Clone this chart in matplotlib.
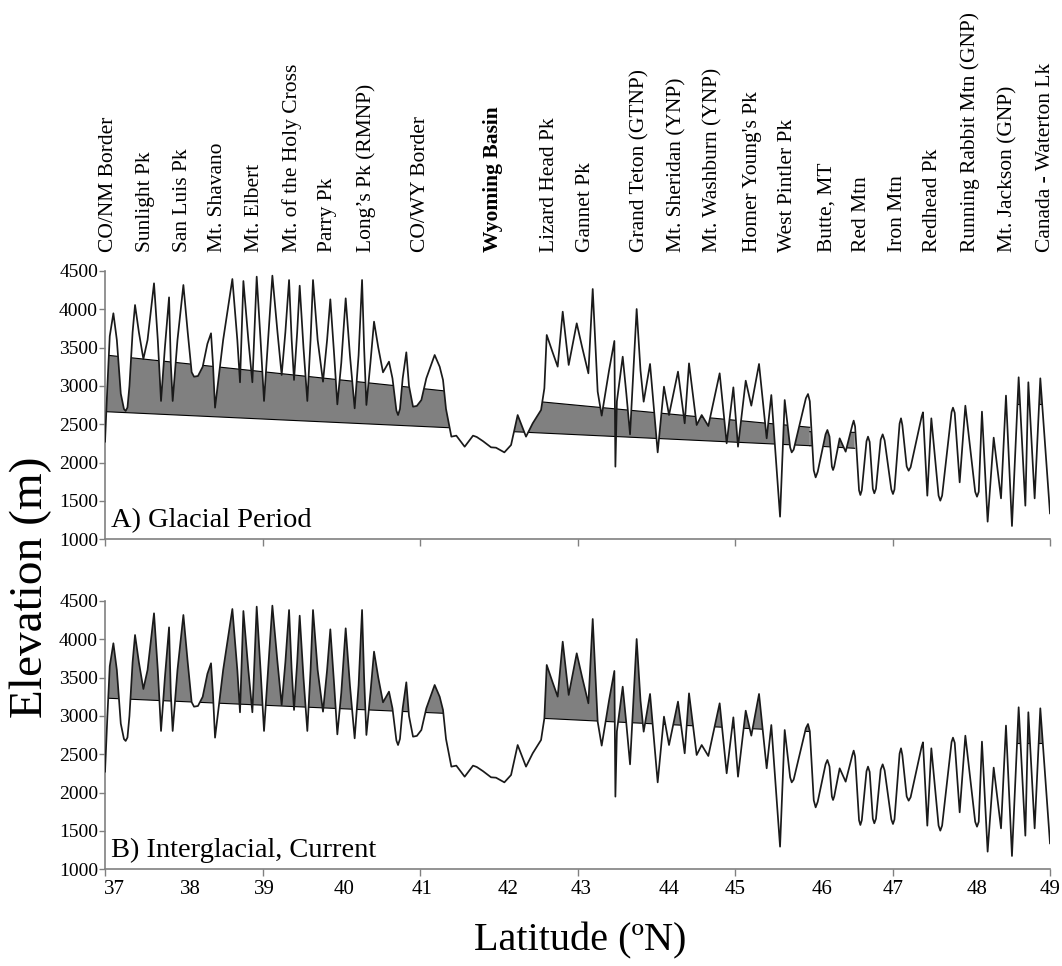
#!/usr/bin/env python
import matplotlib
matplotlib.use('Agg')
import matplotlib.pyplot as plt
import matplotlib.transforms as mtransforms
from matplotlib.patches import Polygon
import numpy as np

plt.rcParams['font.family'] = ['Liberation Serif', 'DejaVu Serif']

# Elevation profile along the crest (latitude, m)
LAT = [37.000, 37.030, 37.060, 37.106, 37.150, 37.200, 37.240, 37.262, 37.285, 37.310,
       37.350, 37.381, 37.430, 37.487, 37.540, 37.622, 37.670, 37.711, 37.760, 37.813,
       37.835, 37.859, 37.920, 37.995, 38.050, 38.100, 38.130, 38.180, 38.240, 38.300,
       38.346, 38.370, 38.397, 38.500, 38.617, 38.680, 38.714, 38.757, 38.820, 38.871,
       38.926, 38.975, 39.019, 39.070, 39.125, 39.190, 39.243, 39.290, 39.337, 39.370,
       39.400, 39.440, 39.472, 39.520, 39.569, 39.610, 39.641, 39.700, 39.768, 39.820,
       39.861, 39.910, 39.950, 40.000, 40.056, 40.110, 40.170, 40.220, 40.264, 40.290,
       40.319, 40.370, 40.416, 40.470, 40.530, 40.606, 40.650, 40.700, 40.721, 40.745,
       40.780, 40.826, 40.860, 40.911, 40.960, 41.017, 41.080, 41.186, 41.250, 41.292,
       41.330, 41.398, 41.461, 41.567, 41.673, 41.720, 41.800, 41.902, 41.965, 42.071,
       42.156, 42.240, 42.346, 42.431, 42.537, 42.579, 42.609, 42.680, 42.748, 42.812,
       42.888, 42.990, 43.060, 43.138, 43.193, 43.256, 43.307, 43.400, 43.468, 43.481,
       43.500, 43.574, 43.620, 43.667, 43.751, 43.800, 43.840, 43.921, 43.970, 44.018,
       44.098, 44.162, 44.276, 44.361, 44.416, 44.513, 44.577, 44.661, 44.805, 44.894,
       44.979, 45.038, 45.136, 45.207, 45.305, 45.402, 45.461, 45.572, 45.631, 45.700,
       45.720, 45.745, 45.900, 45.927, 45.950, 46.000, 46.024, 46.050, 46.150, 46.173,
       46.200, 46.230, 46.245, 46.260, 46.329, 46.405, 46.490, 46.507, 46.525, 46.575,
       46.592, 46.610, 46.670, 46.689, 46.710, 46.750, 46.769, 46.790, 46.850, 46.875,
       46.900, 46.985, 47.006, 47.025, 47.090, 47.108, 47.125, 47.180, 47.205, 47.230,
       47.370, 47.387, 47.442, 47.493, 47.585, 47.607, 47.630, 47.750, 47.768, 47.790,
       47.853, 47.925, 48.050, 48.073, 48.095, 48.136, 48.208, 48.285, 48.378, 48.441,
       48.517, 48.602, 48.687, 48.725, 48.805, 48.877, 49.000]
ELEV = [2274, 3000, 3650, 3948, 3600, 2900, 2700, 2674, 2720, 3000,
        3700, 4056, 3700, 3352, 3600, 4339, 3600, 2804, 3500, 4156,
        3300, 2804, 3600, 4317, 3700, 3180, 3121, 3130, 3250, 3550,
        3687, 3300, 2717, 3600, 4395, 3600, 3048, 4369, 3600, 3048,
        4426, 3600, 2804, 3600, 4439, 3700, 3143, 3700, 4382, 3600,
        3078, 3700, 4308, 3500, 2804, 3600, 4382, 3600, 3056, 3600,
        4130, 3400, 2760, 3300, 4143, 3400, 2708, 3400, 4382, 3500,
        2752, 3300, 3839, 3500, 3178, 3317, 3100, 2680, 2621, 2700,
        3100, 3439, 3000, 2730, 2740, 2817, 3100, 3404, 3250, 3078,
        2700, 2339, 2352, 2208, 2352, 2335, 2280, 2200, 2195, 2134,
        2230, 2621, 2339, 2513, 2687, 2969, 3665, 3450, 3252, 3969,
        3274, 3817, 3500, 3165, 4265, 2926, 2613, 3200, 3587, 1948,
        2800, 3382, 2900, 2369, 4004, 3200, 2795, 3287, 2700, 2134,
        2991, 2621, 3187, 2513, 3295, 2491, 2621, 2478, 3165, 2252,
        2982, 2208, 3069, 2743, 3287, 2317, 2882, 1295, 2817, 2200,
        2134, 2170, 2840, 2895, 2800, 1900, 1808, 1880, 2370, 2426,
        2340, 1950, 1904, 1950, 2317, 2143, 2490, 2548, 2470, 1640,
        1578, 1640, 2280, 2339, 2270, 1660, 1600, 1660, 2300, 2369,
        2290, 1650, 1591, 1650, 2510, 2578, 2490, 1950, 1895, 1940,
        2600, 2656, 1569, 2578, 1570, 1504, 1570, 2660, 2717, 2650,
        1743, 2743, 1620, 1556, 1620, 2665, 1230, 2326, 1534, 2874,
        1174, 3113, 1439, 3048, 1534, 3100, 1339]

# Glacial period: ice band between a lower and an upper line, per stretch
GLACIAL_X = [[37.00, 41.40], [42.18, 45.95], [45.95, 46.52], [48.40, 48.95]]
GLACIAL_LOW = [[2665, 2454], [2404, 2221], [2221, 2187], [2765, 2765]]
GLACIAL_HIGH = [[3404, 2926], [2828, 2461], [2404, 2395], None]

# Interglacial (current): everything above the line is shaded
CURRENT_X = [[37.00, 41.40], [42.50, 45.98], [48.40, 48.95]]
CURRENT_LOW = [[3233, 3030], [2972, 2795], [2650, 2650]]

PEAK_NAMES = ['CO/NM Border', 'Sunlight Pk', 'San Luis Pk', 'Mt. Shavano', 'Mt. Elbert',
              'Mt. of the Holy Cross', 'Parry Pk', 'Long\u2019s Pk (RMNP)', 'CO/WY Border',
              'Wyoming Basin', 'Lizard Head Pk', 'Gannet Pk', 'Grand Teton (GTNP)',
              'Mt. Sheridan (YNP)', 'Mt. Washburn (YNP)', "Homer Young's Pk",
              'West Pintler Pk', 'Butte, MT', 'Red Mtn', 'Iron Mtn', 'Redhead Pk',
              'Running Rabbit Mtn (GNP)', 'Mt. Jackson (GNP)', 'Canada - Waterton Lk']
PEAK_LAT = [37.04, 37.51, 37.98, 38.43, 38.90, 39.37, 39.83, 40.32, 41.00, 41.93, 42.65,
            43.10, 43.79, 44.26, 44.72, 45.22, 45.67, 46.17, 46.61, 47.06, 47.51, 47.98,
            48.47, 48.94]

XTICK_MARKS = [37, 39, 41, 43, 45, 47, 49]
XLABEL_POS = [37.12, 38.09, 39.02, 40.04, 41.02, 42.12, 43.04, 44.16, 45.0, 46.11,
              47.01, 48.07, 49.0]
XLABELS = ['37', '38', '39', '40', '41', '42', '43', '44', '45', '46', '47', '48', '49']


def draw_panel(ax, xs, lows, highs, title):
    ax.set_xlim(37, 49)
    ax.set_ylim(1000, 4500)
    under = Polygon(np.column_stack([np.r_[LAT[0], LAT, LAT[-1]],
                                     np.r_[1000, ELEV, 1000]]),
                    closed=True, transform=ax.transData)
    top = ax.get_ylim()[1]
    for x, lo, hi in zip(xs, lows, highs):
        edges = [lo] if hi is None else [lo, hi]
        if hi is None:
            hi = [top, top]
        band = ax.fill_between(x, lo, hi, facecolor='#808080', edgecolor='none', zorder=1)
        band.set_clip_path(under)
        for e in edges:
            ln, = ax.plot(x, e, color='black', lw=0.8, zorder=2)
            ln.set_clip_path(under)
    ax.plot(LAT, ELEV, color='#1a1a1a', lw=1.25, zorder=3)

    for side in ('top', 'right'):
        ax.spines[side].set_visible(False)
    for side in ('left', 'bottom'):
        ax.spines[side].set_color('#808080')
        ax.spines[side].set_linewidth(1.2)
    ax.set_yticks(range(1000, 4501, 500))
    ax.tick_params(axis='y', labelsize=14, length=4, width=1, color='#808080', pad=1)
    ax.set_xticks(XTICK_MARKS)
    ax.set_xticklabels([])
    ax.tick_params(axis='x', which='major', length=5, width=1, color='#808080')
    ax.text(0.006, 0.045, title, transform=ax.transAxes, fontsize=20.5, va='baseline')


def main():
    fig = plt.figure(figsize=(10.62, 9.66), dpi=100)
    ax_a = fig.add_axes([0.0989, 0.4417, 0.8898, 0.2778])
    ax_b = fig.add_axes([0.0989, 0.1001, 0.8898, 0.2778])

    draw_panel(ax_a, GLACIAL_X, GLACIAL_LOW, GLACIAL_HIGH, 'A) Glacial Period')
    draw_panel(ax_b, CURRENT_X, CURRENT_LOW, [None] * len(CURRENT_X),
               'B) Interglacial, Current')

    # latitude labels sit under panel B only, a little off the tick marks
    ax_b.xaxis.remove_overlapping_locs = False
    ax_b.set_xticks(XLABEL_POS, minor=True)
    ax_b.set_xticklabels(XLABELS, minor=True)
    ax_b.tick_params(axis='x', which='minor', length=0, labelsize=15, pad=8)

    trans = mtransforms.blended_transform_factory(ax_a.transData, fig.transFigure)
    for name, lat in zip(PEAK_NAMES, PEAK_LAT):
        weight = 'bold' if name == 'Wyoming Basin' else 'normal'
        ax_a.text(lat, 0.739, name, transform=trans, rotation=90, ha='center',
                  va='bottom', fontsize=15.5, fontweight=weight, clip_on=False)

    fig.text(0.029, 0.392, 'Elevation (m)', rotation=90, fontsize=34,
             ha='center', va='center')
    fig.text(0.546, 0.026, 'Latitude (\u00baN)', fontsize=29, ha='center', va='center')

    fig.savefig('out.png', dpi=100)


if __name__ == '__main__':
    main()
